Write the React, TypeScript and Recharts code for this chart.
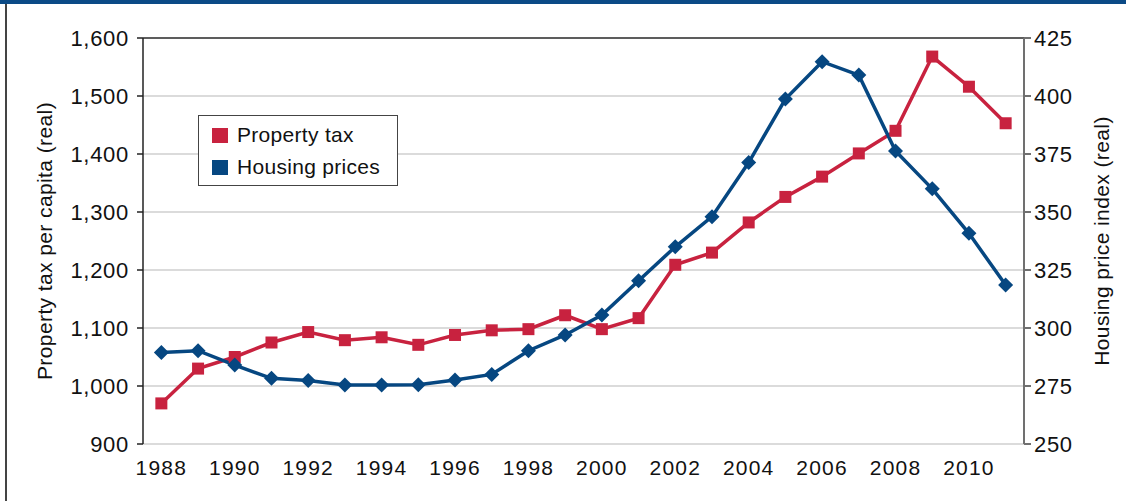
import {
  LineChart,
  Line,
  XAxis,
  YAxis,
  CartesianGrid,
  ReferenceLine,
  Legend,
} from "recharts"

// years on the x axis
const YEARS = [
  1988, 1989, 1990, 1991, 1992, 1993, 1994, 1995, 1996, 1997, 1998, 1999,
  2000, 2001, 2002, 2003, 2004, 2005, 2006, 2007, 2008, 2009, 2010, 2011,
]

// property tax per capita (real), left axis
const PROPERTY_TAX = [
  970, 1030, 1050, 1075, 1093, 1079, 1084, 1071, 1088, 1096, 1098, 1122,
  1098, 1117, 1209, 1230, 1282, 1326, 1361, 1401, 1440, 1568, 1516, 1453,
]

// housing price index (real), right axis
const HOUSING_PRICES = [
  289.4, 290.2, 284, 278.3, 277.4, 275.4, 275.4, 275.5, 277.6, 280, 290.2, 297,
  305.6, 320.4, 335, 348, 371.3, 398.7, 414.8, 409, 376.3, 360, 340.8, 318.5,
]

const YEAR_LABELS = [1988, 1990, 1992, 1994, 1996, 1998, 2000, 2002, 2004, 2006, 2008, 2010]
// tick marks sit between the years, like excel category axes
const YEAR_TICKS = [
  1987.5, 1988.5, 1989.5, 1990.5, 1991.5, 1992.5, 1993.5, 1994.5, 1995.5, 1996.5,
  1997.5, 1998.5, 1999.5, 2000.5, 2001.5, 2002.5, 2003.5, 2004.5, 2005.5, 2006.5,
  2007.5, 2008.5, 2009.5, 2010.5, 2011.5,
]
const TAX_TICKS = [900, 1000, 1100, 1200, 1300, 1400, 1500, 1600]
const PRICE_TICKS = [250, 275, 300, 325, 350, 375, 400, 425]

const RED = "#c8223f"
const BLUE = "#064781"
const FONT = "'Liberation Sans', Arial, sans-serif"

const data = YEARS.map((year, i) => ({
  year,
  tax: PROPERTY_TAX[i],
  price: HOUSING_PRICES[i],
}))

const yTickStyle = { fontSize: 22, fill: "#111", fontFamily: FONT, letterSpacing: 0.7 }
const xTickStyle = { fontSize: 21, fill: "#111", fontFamily: FONT, letterSpacing: 1.2 }

function Square(props: any) {
  const { cx, cy, index } = props
  return <rect key={`sq-${index}`} x={cx - 6} y={cy - 6} width={12} height={12} fill={RED} />
}

function Diamond(props: any) {
  const { cx, cy, index } = props
  const s = 7.5
  return (
    <polygon
      key={`dm-${index}`}
      points={`${cx},${cy - s} ${cx + s},${cy} ${cx},${cy + s} ${cx - s},${cy}`}
      fill={BLUE}
    />
  )
}

function LegendBox() {
  const row = (color: string, text: string) => (
    <div style={{ display: "flex", alignItems: "center", height: 32 }}>
      <span style={{ width: 16, height: 15, background: color, marginRight: 9 }} />
      <span>{text}</span>
    </div>
  )
  return (
    <div
      style={{
        width: 200,
        height: 71,
        border: "1.5px solid #444",
        background: "#fff",
        padding: "3px 0 0 13px",
        boxSizing: "border-box",
        fontFamily: FONT,
        fontSize: 21,
        letterSpacing: 0.3,
        color: "#111",
      }}
    >
      {row(RED, "Property tax")}
      {row(BLUE, "Housing prices")}
    </div>
  )
}

export default function App() {
  return (
    <div
      style={{
        position: "absolute",
        left: 0,
        top: 0,
        width: 1126,
        height: 501,
        background: "#fff",
        overflow: "hidden",
      }}
    >
      <div style={{ position: "absolute", left: 0, top: 0, width: 1126, height: 4, background: "#0b4a86" }} />
      <div style={{ position: "absolute", left: 5, top: 4, width: 1.5, height: 497, background: "#444" }} />
      <LineChart
        width={1126}
        height={501}
        data={data}
        margin={{ top: 38, right: 0, bottom: 0, left: 0 }}
      >
        <CartesianGrid yAxisId="left" xAxisId="marks" vertical={false} stroke="#cfcfcf" strokeWidth={1.5} />
        <XAxis
          xAxisId="marks"
          dataKey="year"
          type="number"
          domain={[1987.5, 2011.5]}
          ticks={YEAR_TICKS}
          interval={0}
          height={0}
          tick={false}
          tickSize={6}
          stroke="#222"
          strokeWidth={1.5}
        />
        <XAxis
          xAxisId="labels"
          dataKey="year"
          type="number"
          domain={[1987.5, 2011.5]}
          ticks={YEAR_LABELS}
          interval={0}
          height={57}
          axisLine={false}
          tickLine={false}
          tickSize={0}
          tickMargin={16}
          tick={xTickStyle}
        />
        <YAxis
          yAxisId="left"
          domain={[900, 1600]}
          ticks={TAX_TICKS}
          interval={0}
          width={143}
          tickSize={6}
          tickMargin={8}
          tick={yTickStyle}
          tickFormatter={(v: number) => v.toLocaleString("en-US")}
          stroke="#222"
          strokeWidth={1.5}
          label={{
            value: "Property tax per capita (real)",
            angle: -90,
            position: "insideLeft",
            offset: 45,
            style: { textAnchor: "middle", fontSize: 21, fill: "#111", fontFamily: FONT, letterSpacing: 0.4 },
          }}
        />
        <YAxis
          yAxisId="right"
          orientation="right"
          domain={[250, 425]}
          ticks={PRICE_TICKS}
          interval={0}
          width={102}
          tickSize={7}
          tickMargin={3}
          tick={yTickStyle}
          stroke="#707070"
          strokeWidth={2}
          label={{
            value: "Housing price index (real)",
            angle: -90,
            position: "insideRight",
            offset: 24,
            style: { textAnchor: "middle", fontSize: 21, fill: "#111", fontFamily: FONT, letterSpacing: 0.4 },
          }}
        />
        <ReferenceLine yAxisId="left" xAxisId="marks" y={1600} stroke="#333" strokeWidth={1.5} />
        <Legend
          layout="vertical"
          align="center"
          verticalAlign="middle"
          wrapperStyle={{ position: "absolute", left: 198, top: 115, width: 200, height: 71 }}
          content={() => <LegendBox />}
        />
        <Line
          yAxisId="left"
          xAxisId="marks"
          dataKey="tax"
          name="Property tax"
          stroke={RED}
          strokeWidth={3.5}
          dot={Square}
          activeDot={false}
          isAnimationActive={false}
        />
        <Line
          yAxisId="right"
          xAxisId="marks"
          dataKey="price"
          name="Housing prices"
          stroke={BLUE}
          strokeWidth={3.5}
          dot={Diamond}
          activeDot={false}
          isAnimationActive={false}
        />
      </LineChart>
    </div>
  )
}
